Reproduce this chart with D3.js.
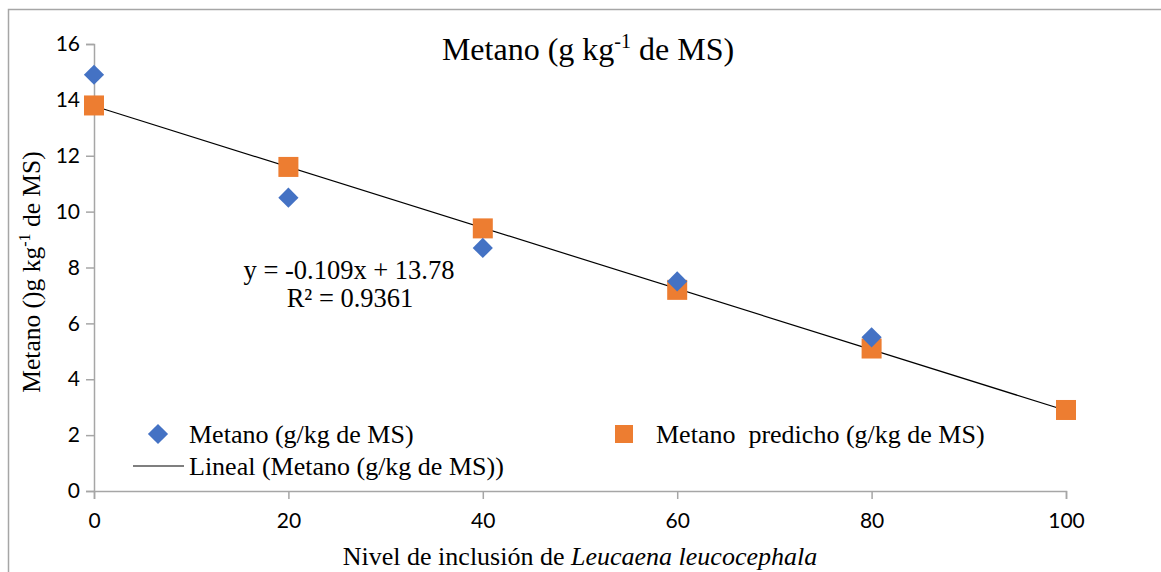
<!DOCTYPE html>
<html>
<head>
<meta charset="utf-8">
<script src="https://cdn.jsdelivr.net/npm/d3@7"></script>
<style>
  body { margin: 0; background: #fff; }
  svg { display: block; }
  .tick text { font-family: Lato, "Open Sans", sans-serif; font-size: 21px; fill: #000; }
</style>
</head>
<body>
<div id="chart"></div>
<script>
const W = 1161;
const H = 572;

// Données
const niveles = [0, 20, 40, 60, 80];
const metano = [14.9, 10.5, 8.7, 7.5, 5.5];
const nivelesPred = [0, 20, 40, 60, 80, 100];
const metanoPred = [13.8, 11.6, 9.4, 7.2, 5.1, 2.9];
const pendiente = -0.109;
const intercepto = 13.78;
const xTicks = [0, 20, 40, 60, 80, 100];
const yTicks = [0, 2, 4, 6, 8, 10, 12, 14, 16];

const SERIF = "'Liberation Serif', 'Times New Roman', 'DejaVu Serif', serif";
const margin = { left: 94, right: 95, top: 44, bottom: 81 };

const svg = d3.select("#chart").append("svg")
  .attr("width", W)
  .attr("height", H);

// cadre extérieur
svg.append("path")
  .attr("d", `M8.5,${H} L8.5,9.5 L${W},9.5`)
  .attr("fill", "none")
  .attr("stroke", "#a6a6a6")
  .attr("stroke-width", 1.5);

const x = d3.scaleLinear().domain([0, 100]).range([margin.left, W - margin.right]);
const y = d3.scaleLinear().domain([0, 16]).range([H - margin.bottom, margin.top]);

// axes
const xAxis = svg.append("g")
  .attr("transform", `translate(0,${y(0)})`)
  .call(d3.axisBottom(x).tickValues(xTicks).tickSize(8).tickPadding(14));
const yAxis = svg.append("g")
  .attr("transform", `translate(${x(0)},0)`)
  .call(d3.axisLeft(y).tickValues(yTicks).tickSize(8).tickPadding(6));
[xAxis, yAxis].forEach(a => {
  a.select(".domain").attr("stroke", "#a6a6a6").attr("stroke-width", 1.5);
  a.selectAll(".tick line").attr("stroke", "#a6a6a6").attr("stroke-width", 1.5);
});

// ligne de tendance
svg.append("line")
  .attr("x1", x(0)).attr("y1", y(intercepto))
  .attr("x2", x(100)).attr("y2", y(intercepto + pendiente * 100))
  .attr("stroke", "#000").attr("stroke-width", 1.2);

// carrés orange (prédits)
const sq = 20;
svg.selectAll(".pred").data(nivelesPred).enter().append("rect")
  .attr("x", (d) => x(d) - sq / 2)
  .attr("y", (d, i) => y(metanoPred[i]) - sq / 2)
  .attr("width", sq).attr("height", sq)
  .attr("fill", "#ed7d31");

// losanges bleus
const diamond = d3.symbol().type(d3.symbolDiamond2).size(260);
svg.selectAll(".obs").data(niveles).enter().append("path")
  .attr("d", diamond)
  .attr("transform", (d, i) => `translate(${x(d)},${y(metano[i])})`)
  .attr("fill", "#4472c4");

function serifText(px) {
  return svg.append("text")
    .style("font-family", SERIF)
    .style("font-size", px + "px")
    .attr("fill", "#000");
}

// titre
const title = serifText(32).attr("x", 588).attr("y", 60).attr("text-anchor", "middle");
title.append("tspan").text("Metano (g kg");
title.append("tspan").attr("dy", -12).style("font-size", "20px").text("-1");
title.append("tspan").attr("dy", 12).text(" de MS)");

// équation
serifText(26.5).attr("x", 349).attr("y", 279).attr("text-anchor", "middle")
  .text("y = -0.109x + 13.78");
serifText(26.5).attr("x", 350).attr("y", 307).attr("text-anchor", "middle")
  .text("R² = 0.9361");

// titre axe x
const xt = serifText(26).attr("x", 580).attr("y", 565).attr("text-anchor", "middle");
xt.append("tspan").text("Nivel de inclusión de ");
xt.append("tspan").style("font-style", "italic").text("Leucaena leucocephala");

// titre axe y
const yt = serifText(25.5).attr("transform", "translate(40,272) rotate(-90)")
  .attr("text-anchor", "middle");
yt.append("tspan").text("Metano ()g kg");
yt.append("tspan").attr("dy", -10).style("font-size", "16px").text("-1");
yt.append("tspan").attr("dy", 10).text(" de MS)");

// légende
svg.append("path").attr("d", diamond)
  .attr("transform", "translate(158,434)")
  .attr("fill", "#4472c4");
serifText(26).attr("x", 189).attr("y", 443).text("Metano (g/kg de MS)");
svg.append("rect").attr("x", 615).attr("y", 425).attr("width", 18).attr("height", 18)
  .attr("fill", "#ed7d31");
serifText(26).attr("x", 656).attr("y", 443).style("white-space", "pre")
  .text("Metano  predicho (g/kg de MS)");
svg.append("line").attr("x1", 133).attr("x2", 184).attr("y1", 466).attr("y2", 466)
  .attr("stroke", "#000").attr("stroke-width", 1.2);
serifText(26).attr("x", 189).attr("y", 475).text("Lineal (Metano (g/kg de MS))");
</script>
</body>
</html>
